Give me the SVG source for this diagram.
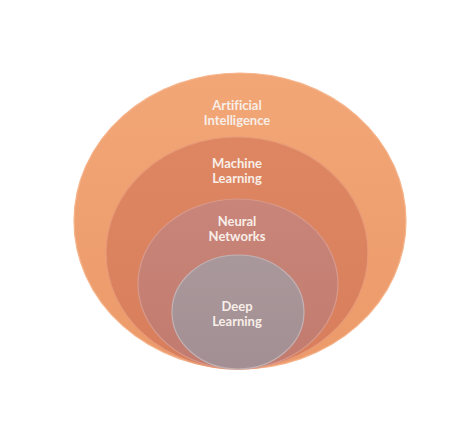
<svg xmlns="http://www.w3.org/2000/svg" width="474" height="434" viewBox="0 0 474 434">
<defs>
<linearGradient id="gAI" x1="0" y1="0" x2="0" y2="1"><stop offset="0" stop-color="#F2A676"/><stop offset="1" stop-color="#EC9A6A"/></linearGradient>
<linearGradient id="gML" x1="0" y1="0" x2="0" y2="1"><stop offset="0" stop-color="#DE8662"/><stop offset="1" stop-color="#D87E5C"/></linearGradient>
<linearGradient id="gNN" x1="0" y1="0" x2="0" y2="1"><stop offset="0" stop-color="#C9857A"/><stop offset="1" stop-color="#C27B6E"/></linearGradient>
<linearGradient id="gDL" x1="0" y1="0" x2="0" y2="1"><stop offset="0" stop-color="#A9989B"/><stop offset="1" stop-color="#A38F93"/></linearGradient>
</defs>
<style>
.lbl{font-family:Lato,"Open Sans","Liberation Sans",sans-serif;font-weight:bold;font-size:13px;fill:#F8EEE8;text-anchor:middle;font-variant-ligatures:none}
.ring{stroke-width:1.2}
</style>
<rect width="474" height="434" fill="#FFFFFF"/>
<g id="ai">
<ellipse class="ring" cx="240" cy="221" rx="166" ry="148" fill="url(#gAI)" stroke="#F6B48C"/>
<text class="lbl" x="237" y="109.5">Artificial</text>
<text class="lbl" x="237" y="124.5">Intelligence</text>
</g>
<g id="ml">
<ellipse class="ring" cx="237" cy="253" rx="131" ry="116" fill="url(#gML)" stroke="#E89A78"/>
<text class="lbl" x="237" y="167.5">Machine</text>
<text class="lbl" x="237" y="182.5">Learning</text>
</g>
<g id="nn">
<ellipse class="ring" cx="238" cy="284" rx="100" ry="85" fill="url(#gNN)" stroke="#D89A8C"/>
<text class="lbl" x="237" y="225.5">Neural</text>
<text class="lbl" x="237" y="240.5">Networks</text>
</g>
<g id="dl">
<ellipse class="ring" cx="238" cy="312" rx="66" ry="57" fill="url(#gDL)" stroke="#C2B2B4"/>
<text class="lbl" x="237" y="310.5">Deep</text>
<text class="lbl" x="237" y="325.5">Learning</text>
</g>
<g id="connectors"/>
</svg>
